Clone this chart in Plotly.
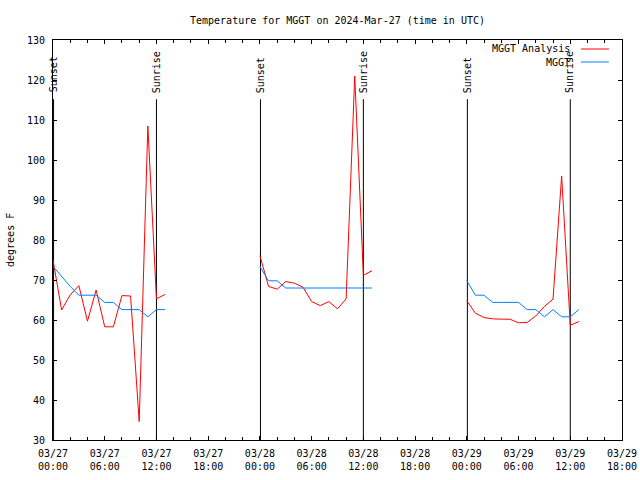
import plotly.graph_objects as go

FONT = "DejaVu Sans Mono"

# ---- data ----
seg1_times = ["2024-03-27 %02d:00" % h for h in [0,1,2,3,4,5,6,7,8,9,10,11,12,13]]
seg2_times = ["2024-03-28 %02d:00" % h for h in [0,1,2,3,4,5,6,7,8,9,10,11,12,13]]
seg3_times = ["2024-03-29 %02d:00" % h for h in [0,1,2,3,4,5,6,7,8,9,10,11,12,13]]

analysis_seg1 = [75.0, 62.5, 66.3, 68.6, 59.7, 67.5, 58.3, 58.3, 66.1, 66.0, 34.6, 108.5, 65.3, 66.4]
analysis_seg2 = [76.1, 68.4, 67.7, 69.6, 69.2, 68.2, 64.6, 63.6, 64.6, 62.8, 65.3, 121.0, 71.2, 72.3]
analysis_seg3 = [64.8, 61.7, 60.6, 60.3, 60.2, 60.2, 59.3, 59.4, 61.0, 63.4, 65.2, 96.0, 58.7, 59.6]

obs_seg1 = [73.4, 70.8, 68.4, 66.2, 66.2, 66.2, 64.4, 64.4, 62.6, 62.6, 62.6, 60.8, 62.6, 62.6]
obs_seg2 = [73.4, 69.8, 69.8, 68.0, 68.0, 68.0, 68.0, 68.0, 68.0, 68.0, 68.0, 68.0, 68.0, 68.0]
obs_seg3 = [69.8, 66.2, 66.2, 64.4, 64.4, 64.4, 64.4, 62.6, 62.6, 60.8, 62.6, 60.8, 60.8, 62.6]

event_times = ["2024-03-27 00:04", "2024-03-27 12:00", "2024-03-28 00:04",
               "2024-03-28 12:00", "2024-03-29 00:04", "2024-03-29 12:00"]
event_labels = ["Sunset", "Sunrise", "Sunset", "Sunrise", "Sunset", "Sunrise"]
EVENT_LOW, EVENT_TOP, EVENT_TEXT = 30, 115.2, 116.3

tick_vals = ["2024-03-27 00:00", "2024-03-27 06:00", "2024-03-27 12:00", "2024-03-27 18:00",
             "2024-03-28 00:00", "2024-03-28 06:00", "2024-03-28 12:00", "2024-03-28 18:00",
             "2024-03-29 00:00", "2024-03-29 06:00", "2024-03-29 12:00", "2024-03-29 18:00"]
tick_text = ["03/27<br>00:00", "03/27<br>06:00", "03/27<br>12:00", "03/27<br>18:00",
             "03/28<br>00:00", "03/28<br>06:00", "03/28<br>12:00", "03/28<br>18:00",
             "03/29<br>00:00", "03/29<br>06:00", "03/29<br>12:00", "03/29<br>18:00"]

series_names = ["MGGT Analysis", "MGGT"]
colors = ["#ff0000", "#0080ff"]

def join(*segs):
    out = []
    for i, s in enumerate(segs):
        if i:
            out.append(None)
        out.extend(s)
    return out

x_all = join(seg1_times, seg2_times, seg3_times)
analysis = join(analysis_seg1, analysis_seg2, analysis_seg3)
obs = join(obs_seg1, obs_seg2, obs_seg3)

fig = go.Figure()

# event lines
for t, lab in zip(event_times, event_labels):
    fig.add_trace(go.Scatter(x=[t, t], y=[EVENT_LOW, EVENT_TOP], mode="lines",
                             line=dict(color="black", width=1), showlegend=False,
                             hoverinfo="skip"))
    fig.add_annotation(x=t, y=EVENT_TEXT, xref="x", yref="y", text=lab,
                       textangle=-90, showarrow=False, xanchor="center", yanchor="bottom",
                       font=dict(family=FONT, size=10, color="black"))

fig.add_trace(go.Scatter(x=x_all, y=analysis, mode="lines", name=series_names[0],
                         line=dict(color=colors[0], width=1), connectgaps=False,
                         showlegend=False))
fig.add_trace(go.Scatter(x=x_all, y=obs, mode="lines", name=series_names[1],
                         line=dict(color=colors[1], width=1), connectgaps=False,
                         showlegend=False))

# manual legend (gnuplot-style: text then sample line)
leg_y = [0.9775, 0.945]
for name, c, yy in zip(series_names, colors, leg_y):
    fig.add_annotation(x=0.913, y=yy, xref="paper", yref="paper", text=name,
                       showarrow=False, xanchor="right", yanchor="middle",
                       font=dict(family=FONT, size=10, color="black"))
    fig.add_shape(type="line", xref="paper", yref="paper", x0=0.928, x1=0.977,
                  y0=yy, y1=yy, line=dict(color=c, width=1))

fig.add_annotation(x=-0.0756, y=0.5, xref="paper", yref="paper", text="degrees F",
                   textangle=-90, showarrow=False, xanchor="center", yanchor="middle",
                   font=dict(family=FONT, size=10, color="black"))

fig.update_layout(
    width=640, height=480,
    margin=dict(l=53, r=18, t=40, b=40, autoexpand=False),
    paper_bgcolor="white", plot_bgcolor="white",
    font=dict(family=FONT, size=10, color="black"),
    title=dict(text="Temperature for MGGT on 2024-Mar-27 (time in UTC)",
               x=0.5, xref="paper", y=1 - 20.5 / 480, yref="container",
               xanchor="center", yanchor="middle",
               font=dict(family=FONT, size=10, color="black")),
    showlegend=False,
)
fig.update_xaxes(type="date", range=["2024-03-27 00:00", "2024-03-29 18:00"],
                 tickvals=tick_vals, ticktext=tick_text, automargin=False,
                 ticks="inside", ticklen=4, tickcolor="black", ticklabelstandoff=4,
                 minor=dict(dtick=2 * 3600 * 1000, ticks="inside", ticklen=3, tickcolor="black",
                            showgrid=False),
                 showline=True, linecolor="black", linewidth=1, mirror="ticks",
                 showgrid=False, zeroline=False,
                 tickfont=dict(family=FONT, size=10, color="black"))
fig.update_yaxes(range=[30, 130], dtick=10, tick0=30, automargin=False,
                 ticks="inside", ticklen=4, tickcolor="black",
                 showline=True, linecolor="black", linewidth=1, mirror="ticks",
                 showgrid=False, zeroline=False, ticklabelstandoff=5,
                 tickfont=dict(family=FONT, size=10, color="black"))

fig.write_html("out.html", config={"displayModeBar": False},
               post_script="document.body.style.margin='0';document.body.style.padding='0';")
